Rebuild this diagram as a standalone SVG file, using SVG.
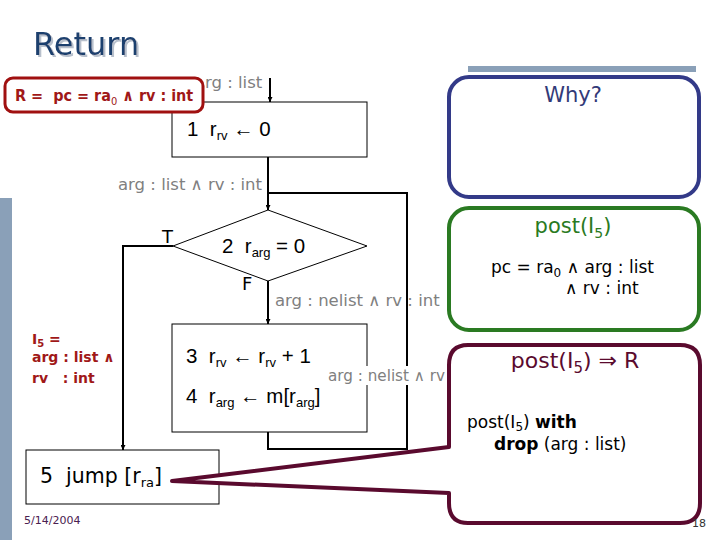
<svg xmlns="http://www.w3.org/2000/svg" width="720" height="540" viewBox="0 0 720 540">
<defs>
<marker id="ah" viewBox="0 0 10 10" refX="10" refY="5" markerWidth="5" markerHeight="5" orient="auto" markerUnits="userSpaceOnUse">
<path d="M0,0 L10,5 L0,10 z" fill="#000"/>
</marker>
<filter id="sh" x="-10%" y="-10%" width="130%" height="140%">
<feDropShadow dx="2" dy="2" stdDeviation="0.6" flood-color="#b8c0cc"/>
</filter>
<style>
.fc{font-family:"Liberation Sans",Arial,sans-serif;font-size:20.5px;fill:#000}
.gl{font-family:"DejaVu Sans",sans-serif;font-size:16.5px;fill:#808080}
.ln{fill:none;stroke:#000;stroke-width:2}
.box{fill:#fff;stroke:#000;stroke-width:1}
.sub{font-size:13px}
.dv{font-family:"DejaVu Sans",sans-serif}
</style>
</defs>
<rect width="720" height="540" fill="#fff"/>
<rect x="0" y="198" width="12" height="342" fill="#8aa0b8"/>
<rect x="468" y="66" width="228" height="6" fill="#8aa0b8"/>
<g id="title">
<text x="33" y="55" font-family="DejaVu Sans,sans-serif" font-size="32" fill="#1c3f6e" filter="url(#sh)">Return</text>
</g>
<g id="connectors">
<line class="ln" x1="270" y1="78" x2="270" y2="102" marker-end="url(#ah)"/>
<polyline class="ln" points="268,157 268,210" marker-end="url(#ah)"/>
<polyline class="ln" points="268,432 268,449 407,449 407,193 268,193"/>
<polyline class="ln" points="173,246 123,246 123,450" marker-end="url(#ah)"/>
<line class="ln" x1="268" y1="281" x2="268" y2="324" marker-end="url(#ah)"/>
</g>
<g id="n1">
<rect class="box" x="172" y="102" width="195" height="55"/>
<text class="fc" x="187" y="136" xml:space="preserve">1  r<tspan class="sub" dy="4">rv</tspan><tspan dy="-4"> ← 0</tspan></text>
</g>
<g id="n2">
<polygon class="box" points="268,210 367,246 268,281 173,246"/>
<text class="fc" x="222" y="253" xml:space="preserve">2  r<tspan class="sub" dy="4">arg</tspan><tspan dy="-4"> = 0</tspan></text>
</g>
<g id="n3">
<rect class="box" x="172" y="324" width="195" height="108"/>
<text class="fc" x="186" y="363" xml:space="preserve">3  r<tspan class="sub" dy="4">rv</tspan><tspan dy="-4"> ← r</tspan><tspan class="sub" dy="4">rv</tspan><tspan dy="-4"> + 1</tspan></text>
<text class="fc" x="186" y="403" xml:space="preserve">4  r<tspan class="sub" dy="4">arg</tspan><tspan dy="-4"> ← m[r</tspan><tspan class="sub" dy="4">arg</tspan><tspan dy="-4">]</tspan></text>
</g>
<g id="n5">
<rect class="box" x="26" y="450" width="193" height="54"/>
<text class="fc dv" x="40" y="483" font-size="18.5" xml:space="preserve">5  jump [r<tspan class="sub" dy="4">ra</tspan><tspan dy="-4">]</tspan></text>
</g>
<g id="labels">
<text class="gl" x="205" y="88">rg : list</text>
<text class="gl" x="118" y="190">arg : list ∧ rv : int</text>
<text class="gl" x="275" y="306">arg : nelist ∧ rv : int</text>
<rect x="326" y="366" width="124" height="19" fill="#fff"/>
<text class="gl" x="328" y="381" style="font-size:15.2px">arg : nelist ∧ rv</text>
<text x="162" y="243" font-family="DejaVu Sans,sans-serif" font-size="18" fill="#000">T</text>
<text x="242" y="290" font-family="DejaVu Sans,sans-serif" font-size="18" fill="#000">F</text>
</g>
<g id="i5">
<text font-family="DejaVu Sans,sans-serif" font-size="14" font-weight="bold" fill="#a01818" xml:space="preserve"><tspan x="32" y="344">I<tspan font-size="10" dy="3">5</tspan><tspan dy="-3"> =</tspan></tspan><tspan x="32" y="362">arg : list ∧</tspan><tspan x="32" y="383">rv   : int</tspan></text>
</g>
<g id="R">
<rect x="5" y="78" width="198" height="34" rx="8" fill="#fff" stroke="#a01010" stroke-width="3"/>
<text x="15" y="101" font-family="DejaVu Sans Condensed,DejaVu Sans,sans-serif" font-size="16" font-weight="bold" fill="#a01818" xml:space="preserve">R =  pc = ra<tspan font-size="11" font-weight="normal" dy="4">0</tspan><tspan dy="-4"> ∧ rv : int</tspan></text>
</g>
<g id="why">
<rect x="449" y="77" width="250" height="120" rx="20" fill="#fff" stroke="#333a88" stroke-width="4"/>
<text x="573" y="102" text-anchor="middle" font-family="DejaVu Sans,sans-serif" font-size="21" fill="#333a78">Why?</text>
</g>
<g id="post">
<rect x="449" y="208" width="250" height="122" rx="20" fill="#fff" stroke="#2a7a22" stroke-width="4"/>
<text x="573" y="233" text-anchor="middle" font-family="DejaVu Sans,sans-serif" font-size="21" fill="#2a7a22">post(I<tspan font-size="14" dy="5">5</tspan><tspan dy="-5">)</tspan></text>
<text x="491" y="273" font-family="DejaVu Sans,sans-serif" font-size="17" fill="#000">pc = ra<tspan font-size="12" dy="4">0</tspan><tspan dy="-4"> ∧ arg : list</tspan></text>
<text x="565" y="294" font-family="DejaVu Sans,sans-serif" font-size="17" fill="#000">∧ rv : int</text>
</g>
<g id="impl">
<path d="M468,345 H680 Q700,345 700,365 V503 Q700,523 680,523 H468 Q449,523 449,503 V493 L172,481 L449,447 V365 Q449,345 468,345 Z" fill="#fff" stroke="#5a0a2e" stroke-width="4" stroke-linejoin="round"/>
<text x="575" y="368" text-anchor="middle" font-family="DejaVu Sans,sans-serif" font-size="22" fill="#5a0a2e">post(I<tspan font-size="15" dy="5">5</tspan><tspan dy="-5">) ⇒ R</tspan></text>
<text x="467" y="428" font-family="DejaVu Sans,sans-serif" font-size="17" fill="#000">post(I<tspan font-size="12" dy="3">5</tspan><tspan dy="-3">) </tspan><tspan font-weight="bold">with</tspan></text>
<text x="494" y="450" font-family="DejaVu Sans,sans-serif" font-size="17" fill="#000"><tspan font-weight="bold">drop</tspan> (arg : list)</text>
</g>
<g id="footer">
<text x="24" y="524" font-family="DejaVu Sans,sans-serif" font-size="11" fill="#4a2050">5/14/2004</text>
<text x="692" y="527" font-family="DejaVu Sans,sans-serif" font-size="11" fill="#333">18</text>
</g>
</svg>
